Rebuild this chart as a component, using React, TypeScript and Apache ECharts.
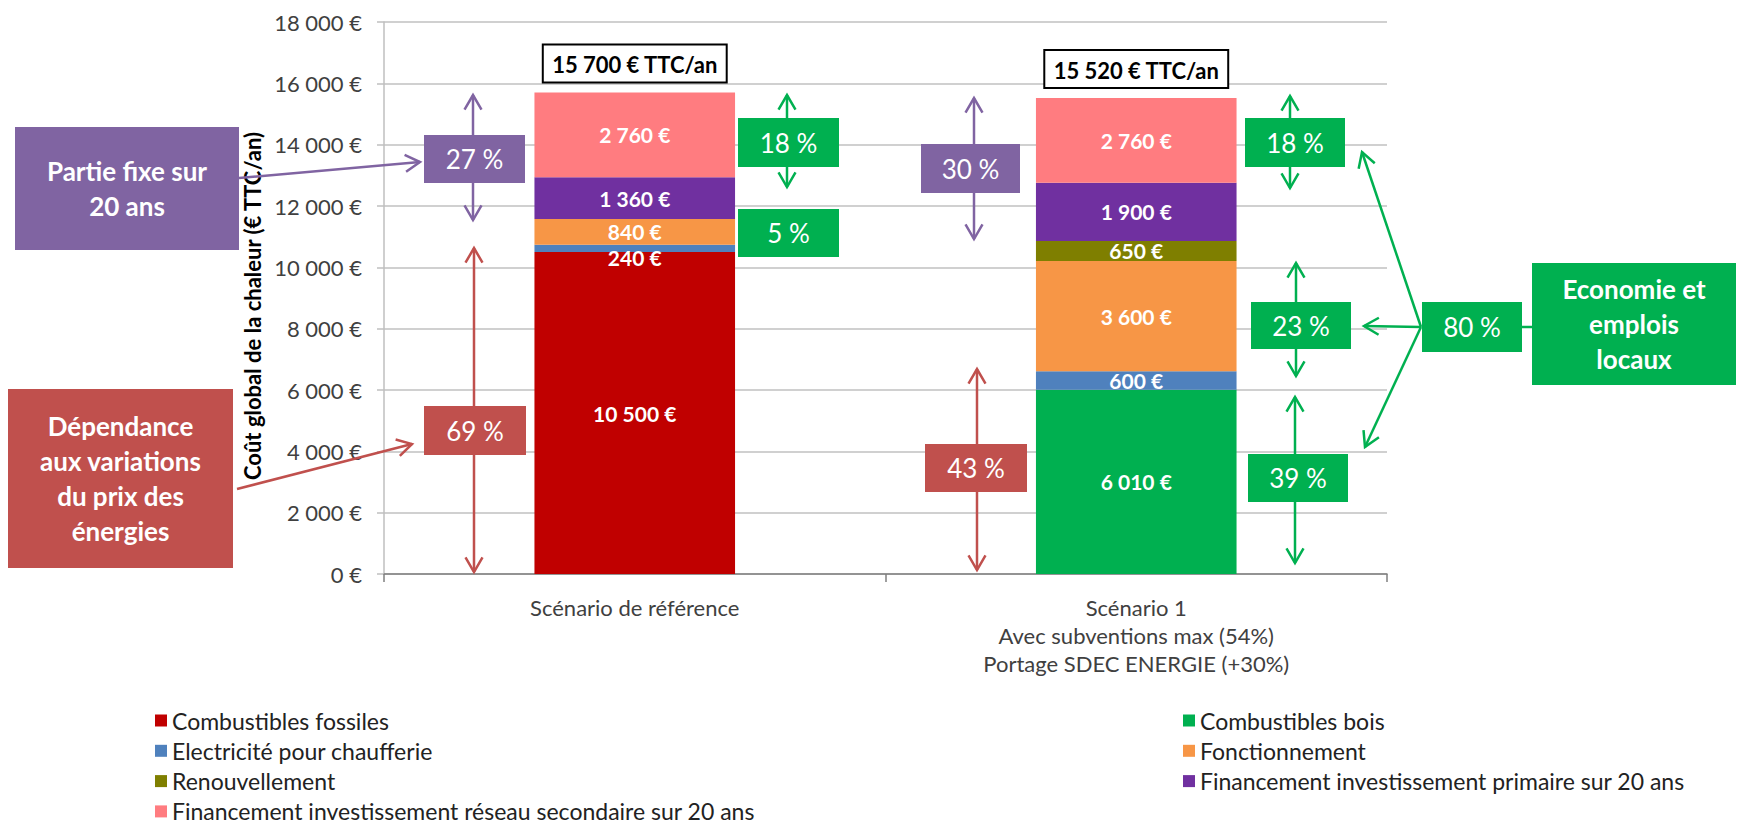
import React, { useEffect, useRef } from "react";
import * as echarts from "echarts";

const categories = [
  "Scénario de référence",
  "Scénario 1\nAvec subventions max (54%)\nPortage SDEC ENERGIE (+30%)",
];
const fossiles = [10500, null];
const bois = [null, 6010];
const electricite = [240, 600];
const fonctionnement = [840, 3600];
const renouvellement = [null, 650];
const primaire = [1360, 1900];
const secondaire = [2760, 2760];
const totals = [15700, 15520];

const seriesNames = [
  "Combustibles fossiles",
  "Combustibles bois",
  "Electricité pour chaufferie",
  "Fonctionnement",
  "Renouvellement",
  "Financement investissement primaire sur 20 ans",
  "Financement investissement réseau secondaire sur 20 ans",
];
const seriesColors = ["#C00000", "#00B050", "#4F81BD", "#F79646", "#7F7F00", "#7030A0", "#FF7C80"];
const legendLeft = [seriesNames[0], seriesNames[2], seriesNames[4], seriesNames[6]];
const legendRight = [seriesNames[1], seriesNames[3], seriesNames[5]];

const PURPLE = "#8064A2";
const RED = "#C0504D";
const GREEN = "#00B050";
const FONT = "Lato";

const fmt = (v: number) => String(v).replace(/\B(?=(\d{3})+(?!\d))/g, " ") + " €";

function buildGraphics() {
  const g: any[] = [];
  const LW = 2.5;
  const line = (x1: number, y1: number, x2: number, y2: number, c: string) =>
    g.push({ type: "line", z: 50, shape: { x1, y1, x2, y2 }, style: { stroke: c, lineWidth: LW } });
  const head = (tx: number, ty: number, fx: number, fy: number, c: string) => {
    const ang = Math.atan2(ty - fy, tx - fx);
    const L = 17;
    const A = Math.PI / 6;
    const p1 = [tx - L * Math.cos(ang - A), ty - L * Math.sin(ang - A)];
    const p2 = [tx - L * Math.cos(ang + A), ty - L * Math.sin(ang + A)];
    g.push({
      type: "polyline",
      z: 50,
      shape: { points: [p1, [tx, ty], p2] },
      style: { stroke: c, lineWidth: LW, fill: null },
    });
  };
  const arrow = (fx: number, fy: number, tx: number, ty: number, c: string) => {
    line(fx, fy, tx, ty, c);
    head(tx, ty, fx, fy, c);
  };
  const dbl = (x: number, y1: number, y2: number, c: string) => {
    line(x, y1, x, y2, c);
    head(x, y1, x, y2, c);
    head(x, y2, x, y1, c);
  };
  const box = (
    x: number, y: number, w: number, h: number, c: string,
    text: string, size: number, bold: boolean, lh: number
  ) => {
    g.push({ type: "rect", z: 60, shape: { x, y, width: w, height: h }, style: { fill: c } });
    g.push({
      type: "text",
      z: 61,
      x: x + w / 2,
      y: y + h / 2,
      style: {
        text,
        fill: "#fff",
        fontSize: size,
        fontWeight: bold ? "bold" : "normal",
        fontFamily: FONT,
        align: "center",
        verticalAlign: "middle",
        lineHeight: lh,
      },
    });
  };

  // vertical double arrows
  dbl(473, 95, 220, PURPLE);
  dbl(474, 248, 572, RED);
  dbl(787, 95, 187, GREEN);
  dbl(974, 98, 239, PURPLE);
  dbl(977, 369, 570, RED);
  dbl(1290, 96, 188, GREEN);
  dbl(1296, 263, 376, GREEN);
  dbl(1295, 397, 563, GREEN);

  // slanted arrows
  arrow(239, 178, 420, 162, PURPLE);
  arrow(237, 489, 412, 444, RED);
  arrow(1421, 327, 1362, 152, GREEN);
  arrow(1421, 327, 1364, 326, GREEN);
  arrow(1421, 327, 1365, 447, GREEN);
  line(1522, 327, 1532, 327, GREEN);

  // big boxes
  box(15, 127, 224, 123, PURPLE, "Partie fixe sur\n20 ans", 26, true, 35);
  box(8, 389, 225, 179, RED, "Dépendance\naux variations\ndu prix des\nénergies", 26, true, 35);
  box(1532, 263, 204, 122, GREEN, "Economie et\nemplois\nlocaux", 26, true, 35);

  // percentage boxes
  box(424, 135, 101, 48, PURPLE, "27 %", 26, false, 28);
  box(424, 406, 102, 49, RED, "69 %", 26, false, 28);
  box(738, 118, 101, 49, GREEN, "18 %", 26, false, 28);
  box(738, 209, 101, 48, GREEN, "5 %", 26, false, 28);
  box(921, 144, 99, 49, PURPLE, "30 %", 26, false, 28);
  box(925, 444, 102, 48, RED, "43 %", 26, false, 28);
  box(1245, 118, 100, 49, GREEN, "18 %", 26, false, 28);
  box(1251, 302, 100, 47, GREEN, "23 %", 26, false, 28);
  box(1248, 454, 100, 48, GREEN, "39 %", 26, false, 28);
  box(1422, 302, 100, 50, GREEN, "80 %", 26, false, 28);
  return g;
}

export default function App() {
  const ref = useRef<HTMLDivElement>(null);
  useEffect(() => {
    if (!ref.current) return;
    const chart = echarts.init(ref.current, undefined, { renderer: "svg" });
    const segLabel = {
      show: true,
      position: "inside",
      color: "#fff",
      fontWeight: "bold",
      fontSize: 21,
      fontFamily: FONT,
      formatter: (p: any) => fmt(p.value),
    };
    const values = [
      fossiles,
      bois,
      electricite.map((v, i) => (i === 0 ? { value: v, label: { offset: [0, 9] } } : v)),
      fonctionnement,
      renouvellement,
      primaire,
      secondaire,
    ];
    const series: any[] = seriesNames.map((name, i) => ({
      name,
      type: "bar",
      stack: "cost",
      barWidth: "40%",
      data: values[i],
      itemStyle: { color: seriesColors[i] },
      label: segLabel,
      emphasis: { disabled: true },
    }));
    series.push({
      name: "Total",
      type: "bar",
      stack: "cost",
      barWidth: "40%",
      data: totals.map(() => 0),
      itemStyle: { color: "transparent" },
      emphasis: { disabled: true },
      label: {
        show: true,
        position: "top",
        distance: 11,
        formatter: (p: any) => fmt(totals[p.dataIndex]) + " TTC/an",
        color: "#000",
        fontWeight: "bold",
        fontSize: 22,
        fontFamily: FONT,
        backgroundColor: "#fff",
        borderColor: "#000",
        borderWidth: 2,
        padding: [8, 8, 6, 8],
      },
    });
    const legendCommon = {
      orient: "vertical",
      top: 709,
      itemWidth: 12,
      itemHeight: 12,
      itemGap: 7.3,
      padding: 0,
      icon: "rect",
      selectedMode: false,
      textStyle: { fontSize: 23, color: "#222", fontFamily: FONT, lineHeight: 23 },
    };
    chart.setOption({
      animation: false,
      textStyle: { fontFamily: FONT },
      grid: { left: 384, right: 351, top: 22, bottom: 252, containLabel: false },
      legend: [
        { ...legendCommon, left: 155, data: legendLeft },
        { ...legendCommon, left: 1183, data: legendRight },
      ],
      xAxis: {
        type: "category",
        data: categories,
        axisLine: { lineStyle: { color: "#7F7F7F", width: 1.5 } },
        axisTick: { show: true, length: 8, lineStyle: { color: "#7F7F7F", width: 1.5 } },
        axisLabel: { fontSize: 22, color: "#404040", lineHeight: 28, margin: 19, fontFamily: FONT },
      },
      yAxis: {
        type: "value",
        min: 0,
        max: 18000,
        interval: 2000,
        name: "Coût global de la chaleur (€ TTC/an)",
        nameLocation: "middle",
        nameGap: 115,
        nameTextStyle: {
          fontSize: 22,
          fontWeight: "bold",
          color: "#000",
          fontFamily: FONT,
          padding: [0, 16, 0, 0],
        },
        axisLine: { show: true, lineStyle: { color: "#BFBFBF", width: 1.5 } },
        axisTick: { show: true, length: 7, lineStyle: { color: "#BFBFBF", width: 1.5 } },
        splitLine: { lineStyle: { color: "#C0C0C0", width: 1.5 } },
        axisLabel: { fontSize: 22, color: "#404040", margin: 22, formatter: (v: number) => fmt(v), fontFamily: FONT },
      },
      series,
      graphic: buildGraphics(),
    });
    return () => chart.dispose();
  }, []);
  return <div ref={ref} style={{ position: "absolute", left: 0, top: 0, width: 1738, height: 826 }} />;
}
